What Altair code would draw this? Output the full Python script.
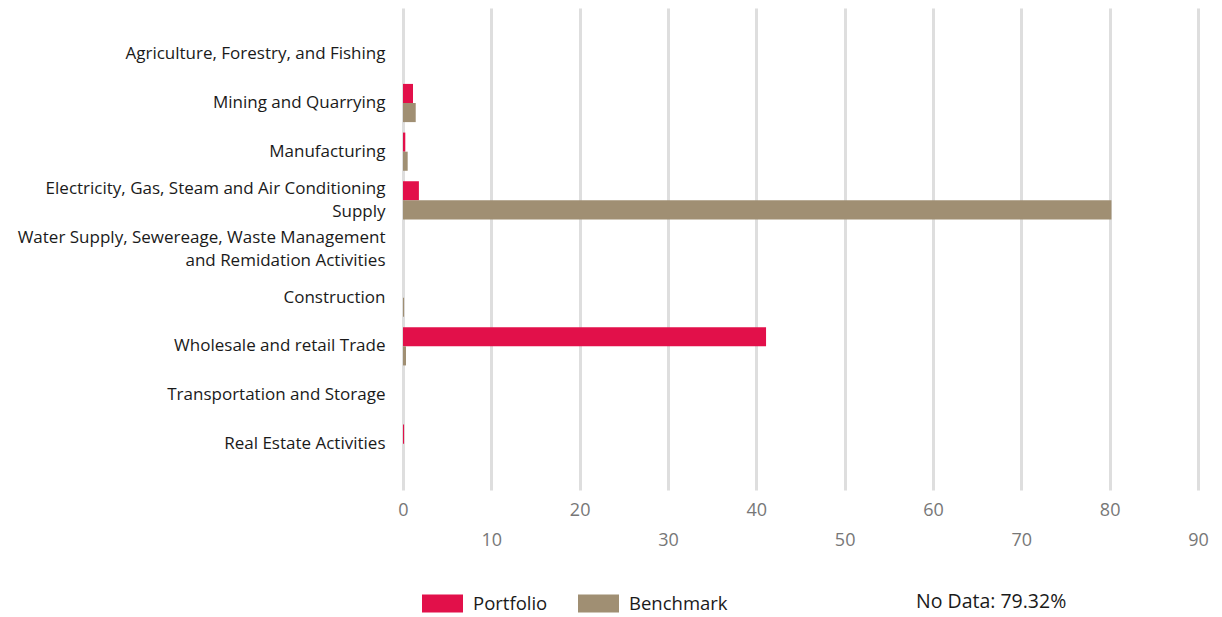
import altair as alt
import pandas as pd

categories = [
    "Agriculture, Forestry, and Fishing",
    "Mining and Quarrying",
    "Manufacturing",
    "Electricity, Gas, Steam and Air Conditioning|Supply",
    "Water Supply, Sewereage, Waste Management|and Remidation Activities",
    "Construction",
    "Wholesale and retail Trade",
    "Transportation and Storage",
    "Real Estate Activities",
]
portfolio = [0.0, 1.13, 0.26, 1.8, 0.0, 0.0, 41.1, 0.0, 0.12]
benchmark = [0.0, 1.44, 0.53, 80.2, 0.0, 0.12, 0.34, 0.0, 0.0]
series = ["Portfolio", "Benchmark"]
colors = ["#E2104A", "#A08F73"]
x_ticks = [0, 10, 20, 30, 40, 50, 60, 70, 80, 90]
no_data_text = "No Data: 79.32%"

rows = []
for c, p, b in zip(categories, portfolio, benchmark):
    rows.append({"category": c, "series": "Portfolio", "value": p})
    rows.append({"category": c, "series": "Benchmark", "value": b})
df = pd.DataFrame(rows)

FONT = "Open Sans"

bars = alt.Chart(df).mark_bar().encode(
    y=alt.Y(
        "category:N",
        sort=categories,
        title=None,
        scale=alt.Scale(paddingInner=0.215, paddingOuter=0.56),
        axis=alt.Axis(
            labelExpr="split(datum.label, '|')",
            labelFontSize=17,
            labelColor="#1a1a1a",
            labelFont=FONT,
            labelPadding=18,
            labelLineHeight=23,
            ticks=False,
            domain=False,
            labelLimit=400,
            labelOffset={
                "condition": {"test": "indexof(datum.value, '|') >= 0", "value": -11.5},
                "value": 0,
            },
        ),
    ),
    yOffset=alt.YOffset("series:N", sort=series),
    x=alt.X(
        "value:Q",
        title=None,
        scale=alt.Scale(domain=[0, 90], nice=False),
        axis=alt.Axis(
            values=x_ticks,
            labelExpr="datum.value % 20 == 0 ? datum.label : ['', datum.label]",
            labelFontSize=18,
            labelColor="#777777",
            labelFont=FONT,
            labelLineHeight=30,
            labelPadding=11,
            labelFlush=False,
            ticks=False,
            domain=False,
            grid=True,
            gridColor="#DEDEDE",
            gridWidth=3,
        ),
    ),
    color=alt.Color(
        "series:N",
        sort=series,
        scale=alt.Scale(domain=series, range=colors),
        legend=alt.Legend(
            title=None,
            orient="none",
            direction="horizontal",
            legendX=19,
            legendY=575,
            padding=0,
            symbolType="M-1,-0.44H1V0.44H-1Z",
            symbolSize=1681,
            symbolStrokeWidth=0,
            symbolOpacity=1,
            labelFontSize=18.5,
            labelFont=FONT,
            labelColor="#1a1a1a",
            labelOffset=10,
            columnPadding=30,
        ),
    ),
)

note = alt.Chart(pd.DataFrame({"t": [no_data_text]})).mark_text(
    align="left", baseline="middle", fontSize=19.5, font=FONT, color="#1a1a1a"
).encode(
    text="t:N",
    x=alt.value(513),
    y=alt.value(594),
)

chart = alt.layer(bars, note).properties(
    width=795,
    height=482,
    autosize=alt.AutoSizeParams(type="none"),
    padding={"left": 395, "top": 0, "right": 12, "bottom": 125},
).configure_view(stroke=None)

chart.save("out.html", embed_options={"renderer": "svg", "actions": False})
